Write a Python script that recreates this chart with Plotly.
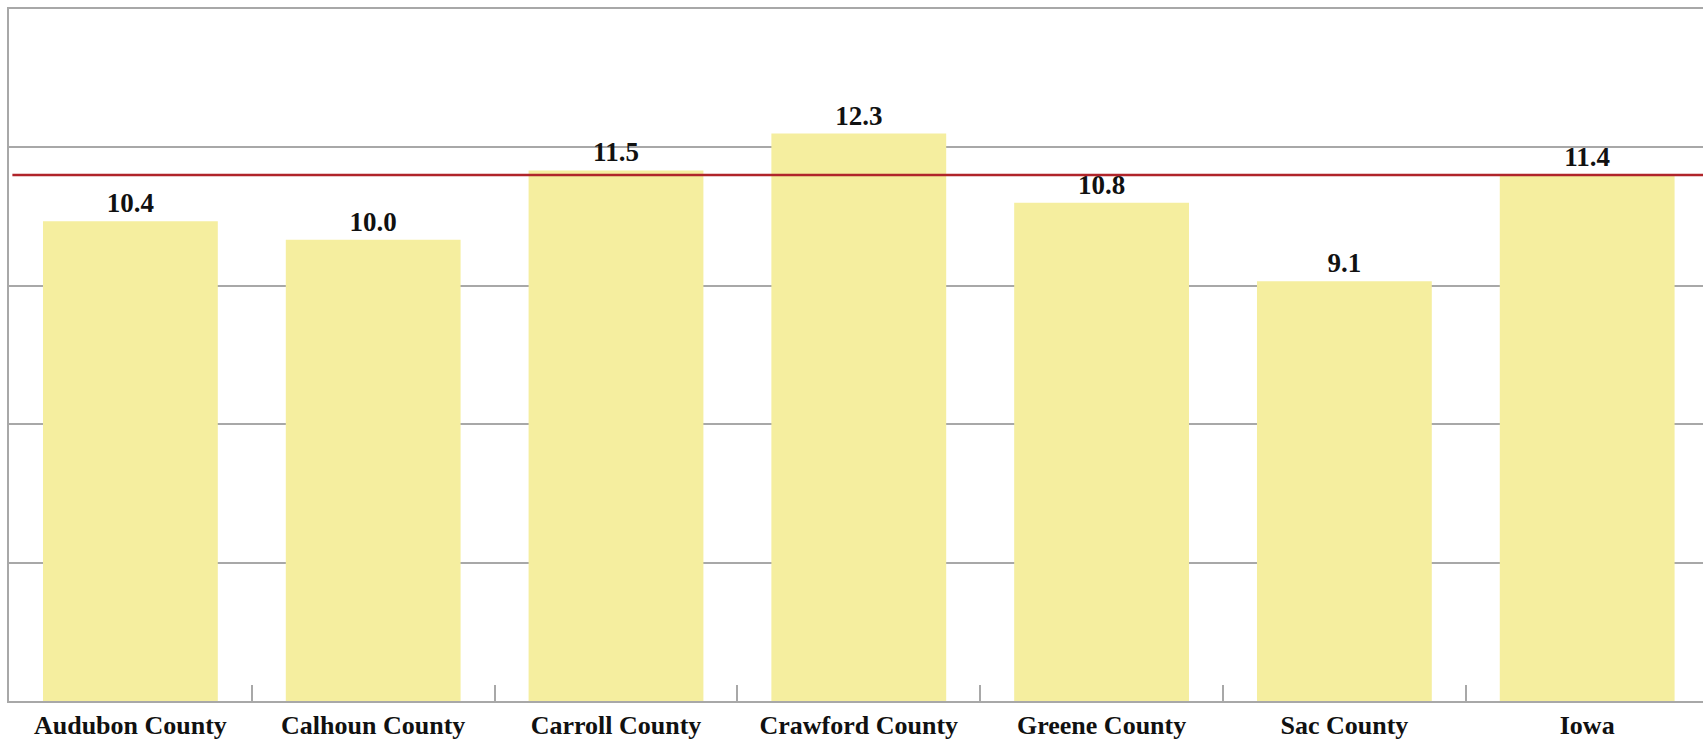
import plotly.graph_objects as go

# Rate by county, with the state value as reference line
counties = ["Audubon County", "Calhoun County", "Carroll County", "Crawford County",
            "Greene County", "Sac County", "Iowa"]
rates = [10.4, 10.0, 11.5, 12.3, 10.8, 9.1, 11.4]
state_rate = 11.4

bar_color = "#F5EE9F"
grid_color = "#A8A8A8"
ref_color = "#B0242A"
font_family = "Liberation Serif"

fig = go.Figure()
fig.add_trace(go.Bar(
    x=counties,
    y=rates,
    marker=dict(color=bar_color, line=dict(width=0)),
    text=rates,
    texttemplate="%{y:.1f}",
    textposition="outside",
    textfont=dict(family=font_family, size=27, color="#111111", weight="bold"),
    cliponaxis=False,
    hoverinfo="x+y",
))

fig.add_shape(
    type="line", xref="paper", yref="y",
    x0=0.002, x1=1, y0=state_rate, y1=state_rate,
    line=dict(color=ref_color, width=2.5),
    layer="above",
)

fig.update_layout(
    width=1703, height=740,
    margin=dict(l=9, r=0, t=9, b=37),
    paper_bgcolor="white",
    plot_bgcolor="white",
    bargap=0.28,
    showlegend=False,
    uniformtext=dict(minsize=10),
)

fig.update_xaxes(
    type="category",
    range=[-0.5, 6.477],
    showline=True, linecolor=grid_color, linewidth=1.5, mirror=True,
    ticks="inside", tickson="boundaries", ticklen=16,
    tickcolor=grid_color, tickwidth=1.5,
    tickfont=dict(family=font_family, size=26, color="#111111", weight="bold"),
    showgrid=False,
)

fig.update_yaxes(
    range=[0, 15], dtick=3,
    showgrid=True, gridcolor=grid_color, gridwidth=1.5,
    showline=True, linecolor=grid_color, linewidth=1.5,
    showticklabels=False, ticks="",
    zeroline=False,
)

fig.write_html("out.html")
